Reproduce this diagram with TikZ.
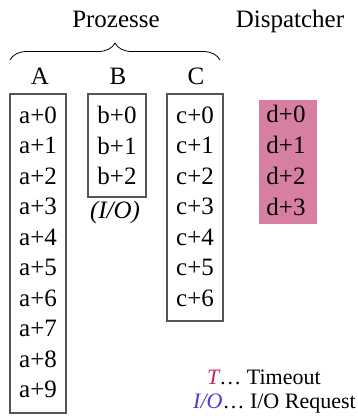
\documentclass[tikz,border=0pt]{standalone}
\usepackage{fontspec}
\setmainfont{Liberation Serif}
\usetikzlibrary{decorations.pathreplacing}
\definecolor{dpink}{RGB}{215,127,160}
\definecolor{tred}{RGB}{205,30,100}
\definecolor{ioblue}{RGB}{75,60,205}
\definecolor{boxgray}{RGB}{85,85,85}
\tikzset{
  cell/.style={font=\fontsize{25}{28}\selectfont, inner sep=0pt, anchor=center},
  head/.style={font=\fontsize{25}{28}\selectfont, inner sep=0pt, anchor=base},
  legend/.style={font=\fontsize{22}{25}\selectfont, inner sep=0pt, anchor=base west},
  procbox/.style={draw=boxgray, line width=1.1pt},
}
\begin{document}
\begin{tikzpicture}[x=1pt,y=1pt]
\useasboundingbox (0,0) rectangle (357,-416);
% headers
\node[head] (proz) at (116,-27) {Prozesse};
\node[head] (disp) at (290,-27) {Dispatcher};
\draw[line width=0.8pt, decorate, decoration={brace, amplitude=17pt}] (10,-60) -- (220,-60);
\node[head] (hA) at (40,-84) {A};
\node[head] (hB) at (118,-84) {B};
\node[head] (hC) at (196,-84) {C};
% boxes
\draw[procbox] (10,-94) rectangle (66,-413);
\draw[procbox] (88,-94) rectangle (146,-197);
\draw[procbox] (167,-94) rectangle (223,-321);
\fill[dpink] (259,-100) rectangle (317,-224);
% rows
\foreach \i in {0,...,9} {
  \node[cell] (a\i) at (38,{-115-30.5*\i}) {a+\i};
}
\foreach \i in {0,1,2} {
  \node[cell] (b\i) at (117,{-115-30.5*\i}) {b+\i};
}
\node[cell] (bio) at (115,-212) {\itshape (I/O)};
\foreach \i in {0,...,6} {
  \node[cell] (c\i) at (195,{-115-30.5*\i}) {c+\i};
}
\foreach \i in {0,...,3} {
  \node[cell] (d\i) at (286,{-114-31*\i}) {d+\i};
}
% legend
\node[legend] (lt) at (207,-384) {\textcolor{tred}{\itshape T}\dots\ Timeout};
\node[legend] (lio) at (193,-408) {\textcolor{ioblue}{\itshape I/O}\dots\ I/O Request};
\end{tikzpicture}
\end{document}
